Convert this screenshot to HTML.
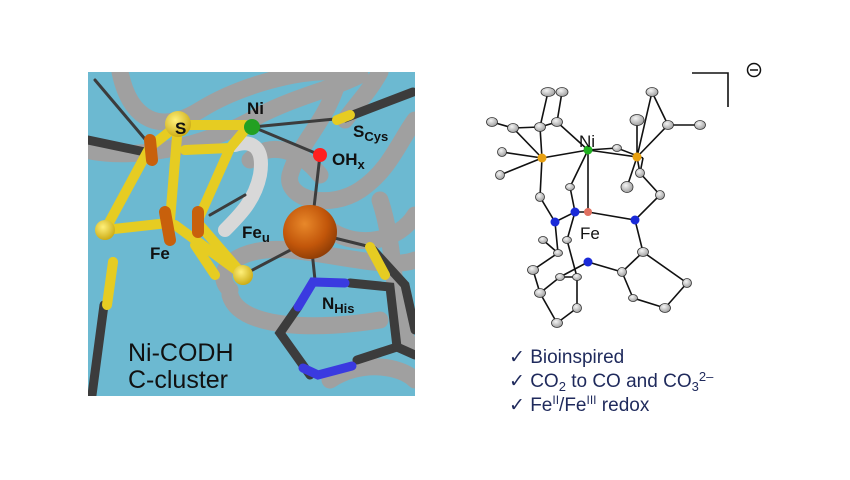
<!DOCTYPE html>
<html><head><meta charset="utf-8"><style>
html,body{margin:0;padding:0;background:#fff;width:850px;height:480px;overflow:hidden}
svg{display:block}
text{font-family:"Liberation Sans",Arial,sans-serif}
</style></head><body>
<svg width="850" height="480" viewBox="0 0 850 480" xmlns="http://www.w3.org/2000/svg">
<defs>
<clipPath id="cp"><rect x="88" y="72" width="327" height="324"/></clipPath>
<radialGradient id="feu" cx="0.4" cy="0.35" r="0.7"><stop offset="0" stop-color="#e8882a"/><stop offset="0.6" stop-color="#c2560a"/><stop offset="1" stop-color="#8a3a05"/></radialGradient>
<radialGradient id="yb" cx="0.4" cy="0.35" r="0.7"><stop offset="0" stop-color="#fff07a"/><stop offset="1" stop-color="#c9a810"/></radialGradient>
<radialGradient id="ca" cx="0.4" cy="0.35" r="0.7"><stop offset="0" stop-color="#f4f4f4"/><stop offset="1" stop-color="#9a9a9a"/></radialGradient>
</defs>
<rect x="88" y="72" width="327" height="324" fill="#6cb9d1"/>
<g clip-path="url(#cp)" fill="none" stroke-linecap="round">
 <g stroke="#a0a0a0" stroke-width="17">
  <path d="M120 72 C130 120 160 135 200 110 C240 85 300 70 330 72"/>
  <path d="M85 150 C130 160 200 150 260 115 C300 95 330 90 360 75"/>
  <path d="M340 72 C330 120 300 140 290 175 C285 200 330 210 360 190 C390 170 400 140 415 120"/>
  <path d="M250 160 C270 140 300 150 320 175"/>
  <path d="M230 290 C210 270 240 245 290 250 C340 255 390 270 415 260"/>
  <path d="M330 230 C360 250 400 240 415 215"/>
  <path d="M380 200 C400 260 390 330 415 350"/>
  <path d="M230 295 C240 330 320 330 380 320"/>
  <path d="M330 380 C360 360 400 365 415 380"/>
  <path d="M380 72 C370 90 360 100 345 120"/>
 </g>
 <g stroke="#d8d8d8" stroke-width="14"><path d="M235 145 C250 140 265 145 260 175 C255 200 240 215 225 230"/></g>
 <g stroke="#3c3c3c" stroke-width="9">
  <path d="M88 140 L145 152"/>
  <path d="M345 118 L413 92"/>
  <path d="M373 250 L405 285 L415 330"/>
  <path d="M104 305 L92 395"/>
  <path d="M350 283 L390 287 L397 347 L357 360"/>
  <path d="M397 347 L415 355"/>
  <path d="M298 307 L280 333 L310 375"/>
 </g>
 <g stroke="#3c3c3c" stroke-width="3">
  <path d="M95 80 L150 145"/>
  <path d="M253 127 L345 118"/>
  <path d="M253 127 L320 155"/>
  <path d="M320 155 L312 225"/>
  <path d="M310 232 L375 248"/>
  <path d="M310 232 L315 280"/>
  <path d="M243 275 L300 245"/>
  <path d="M210 215 L245 195"/>
 </g>
 <g stroke="#3a3ae0" stroke-width="9">
  <path d="M298 307 L313 282 L345 283"/>
  <path d="M303 368 L318 375 L352 366"/>
 </g>
 <g stroke="#e6cc22" stroke-width="10">
  <path d="M113 262 L107 305"/>
  <path d="M337 120 L350 115"/>
  <path d="M370 247 L385 275"/>
  <path d="M178 125 L245 125"/>
  <path d="M178 125 L170 220"/>
  <path d="M178 125 L150 147"/>
  <path d="M150 147 L105 230"/>
  <path d="M105 230 L168 223"/>
  <path d="M175 225 L243 275"/>
  <path d="M198 220 L230 148"/>
  <path d="M185 150 L230 148 L245 130"/>
  <path d="M198 223 L243 275"/>
  <path d="M195 245 L215 275"/>
 </g>
 <g stroke="#c8600c" stroke-width="12">
  <path d="M150 140 L152 160"/>
  <path d="M165 212 L170 240"/>
  <path d="M198 212 L198 232"/>
 </g>
 <circle cx="105" cy="230" r="10" fill="url(#yb)"/>
 <circle cx="243" cy="275" r="10" fill="url(#yb)"/>
 <circle cx="178" cy="124" r="13" fill="url(#yb)"/>
 <circle cx="252" cy="127" r="8" fill="#22a022"/>
 <circle cx="320" cy="155" r="7" fill="#ff2020"/>
 <circle cx="310" cy="232" r="27" fill="url(#feu)"/>
 <circle cx="113" cy="262" r="5" fill="#e6cc22"/>
</g>
<g font-weight="bold" fill="#111" font-size="17">
 <text x="175" y="134">S</text>
 <text x="247" y="114">Ni</text>
 <text x="353" y="137">S<tspan font-size="13" dy="4">Cys</tspan></text>
 <text x="332" y="165">OH<tspan font-size="13" dy="4">x</tspan></text>
 <text x="242" y="238">Fe<tspan font-size="13" dy="4">u</tspan></text>
 <text x="150" y="259">Fe</text>
 <text x="322" y="309">N<tspan font-size="13" dy="4">His</tspan></text>
</g>
<text x="128" y="361" font-size="25" fill="#111">Ni-CODH</text>
<text x="128" y="388" font-size="25" fill="#111">C-cluster</text>

<g stroke="#111" stroke-width="1.6" fill="none">
 <path d="M692 73 L728 73 L728 107"/>
 <path d="M542 158 L588 150 L637 157"/>
 <path d="M588 150 L588 212"/>
 <path d="M542 158 L500 175 M542 158 L513 128 L492 122 M513 128 L540 127 M542 158 L540 127 L548 92 M540 127 L557 122 L562 92 M502 152 L542 158"/>
 <path d="M542 158 L540 197 L555 222 L575 212 L588 212 L635 220 L660 195 L640 173 L637 157"/>
 <path d="M588 150 L557 122 M588 150 L570 187 L575 212 M588 150 L617 148 L643 158"/>
 <path d="M637 157 L652 92 M637 157 L668 125 L700 125 M668 125 L652 92 M637 157 L637 120 M643 158 L640 173 M637 157 L627 187"/>
 <path d="M635 220 L643 252 L622 272 L588 262 L560 277 M643 252 L687 283 L665 308 L633 298 L622 272"/>
 <path d="M555 222 L558 253 L533 270 L540 293 L557 323 L577 308 L577 277 L560 277 M575 212 L567 240 L577 277 M558 253 L543 240 M540 293 L560 277"/>
</g>
<g fill="url(#ca)" stroke="#333" stroke-width="0.8">
 <ellipse cx="548" cy="92" rx="7" ry="4.5"/><ellipse cx="562" cy="92" rx="6" ry="4.5"/><ellipse cx="557" cy="122" rx="5.5" ry="4.5"/>
 <ellipse cx="540" cy="127" rx="5.5" ry="4.5"/><ellipse cx="513" cy="128" rx="5.5" ry="4.5"/><ellipse cx="492" cy="122" rx="5.5" ry="4.5"/>
 <ellipse cx="502" cy="152" rx="4.5" ry="4.5"/><ellipse cx="500" cy="175" rx="4.5" ry="4.5"/><ellipse cx="540" cy="197" rx="4.5" ry="4.5"/>
 <ellipse cx="652" cy="92" rx="6" ry="4.5"/><ellipse cx="668" cy="125" rx="5.5" ry="4.5"/><ellipse cx="700" cy="125" rx="5.5" ry="4.5"/>
 <ellipse cx="637" cy="120" rx="7" ry="5.5"/><ellipse cx="617" cy="148" rx="4.5" ry="3.5"/><ellipse cx="640" cy="173" rx="4.5" ry="4.5"/>
 <ellipse cx="627" cy="187" rx="6" ry="5.5"/><ellipse cx="660" cy="195" rx="4.5" ry="4.5"/><ellipse cx="570" cy="187" rx="4.5" ry="3.5"/>
 <ellipse cx="643" cy="252" rx="5.5" ry="4.5"/><ellipse cx="687" cy="283" rx="4.5" ry="4.5"/><ellipse cx="665" cy="308" rx="5.5" ry="4.5"/>
 <ellipse cx="633" cy="298" rx="4.5" ry="3.5"/><ellipse cx="622" cy="272" rx="4.5" ry="4.5"/><ellipse cx="560" cy="277" rx="4.5" ry="3.5"/>
 <ellipse cx="533" cy="270" rx="5.5" ry="4.5"/><ellipse cx="540" cy="293" rx="5.5" ry="4.5"/><ellipse cx="557" cy="323" rx="5.5" ry="4.5"/>
 <ellipse cx="577" cy="308" rx="4.5" ry="4.5"/><ellipse cx="577" cy="277" rx="4.5" ry="3.5"/><ellipse cx="558" cy="253" rx="4.5" ry="3.5"/>
 <ellipse cx="543" cy="240" rx="4.5" ry="3.5"/><ellipse cx="567" cy="240" rx="4.5" ry="3.5"/>
</g>
<circle cx="542" cy="158" r="4.5" fill="#e8a010"/><circle cx="637" cy="157" r="4.5" fill="#e8a010"/>
<circle cx="588" cy="150" r="4.5" fill="#20b020"/><circle cx="588" cy="212" r="4" fill="#e07060"/>
<g fill="#1a2ad8"><circle cx="555" cy="222" r="4.5"/><circle cx="575" cy="212" r="4.5"/><circle cx="635" cy="220" r="4.5"/><circle cx="588" cy="262" r="4.5"/></g>
<text x="579" y="147" font-size="17" fill="#111">Ni</text>
<text x="580" y="239" font-size="17" fill="#111">Fe</text>
<circle cx="754" cy="70" r="6.5" fill="none" stroke="#111" stroke-width="1.5"/>
<line x1="750" y1="70" x2="758" y2="70" stroke="#111" stroke-width="1.5"/>
<g font-size="19" fill="#1f2a5c">
 <text x="509" y="363">✓ Bioinspired</text>
 <text x="509" y="387">✓ CO<tspan font-size="13" dy="4">2</tspan><tspan dy="-4"> to CO and CO</tspan><tspan font-size="13" dy="4">3</tspan><tspan font-size="13" dy="-10">2–</tspan></text>
 <text x="509" y="411">✓ Fe<tspan font-size="12" dy="-7">II</tspan><tspan dy="7">/Fe</tspan><tspan font-size="12" dy="-7">III</tspan><tspan dy="7"> redox</tspan></text>
</g>
</svg>
</body></html>
